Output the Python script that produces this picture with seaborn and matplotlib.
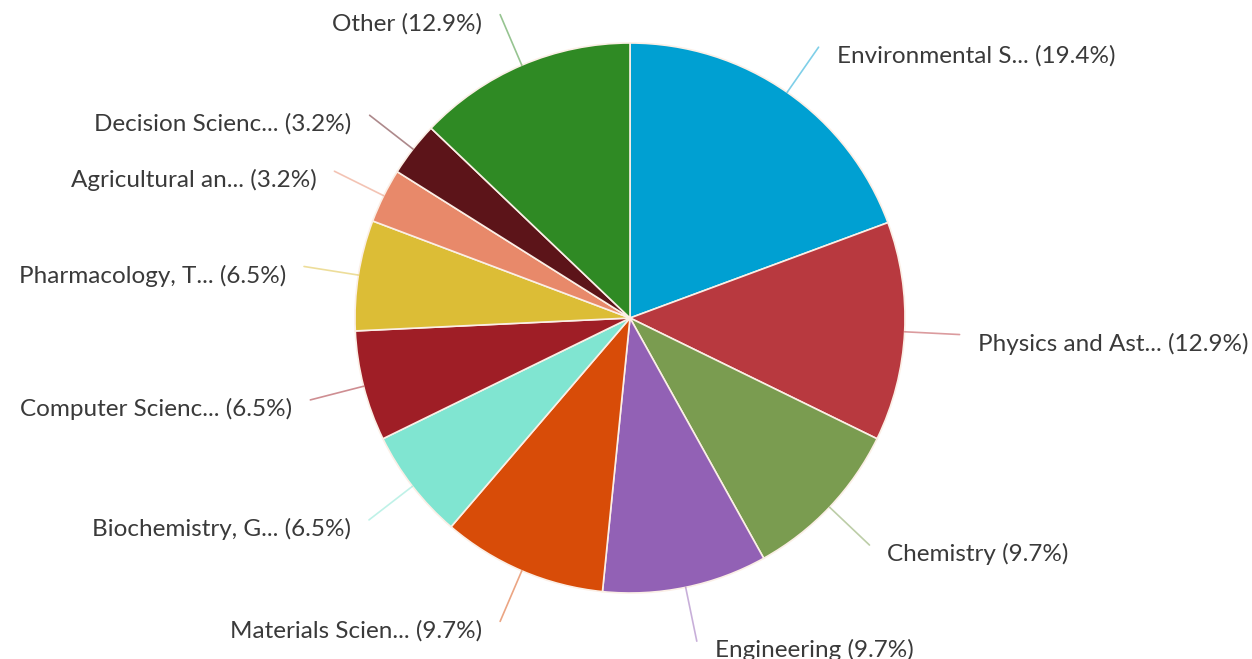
import numpy as np
import matplotlib
matplotlib.use("Agg")
import matplotlib.pyplot as plt
import seaborn as sns

categories = ["Environmental S...", "Physics and Ast...", "Chemistry", "Engineering",
              "Materials Scien...", "Biochemistry, G...", "Computer Scienc...",
              "Pharmacology, T...", "Agricultural an...", "Decision Scienc...", "Other"]
percents = [19.4, 12.9, 9.7, 9.7, 9.7, 6.5, 6.5, 6.5, 3.2, 3.2, 12.9]
colors = ["#00a0d2", "#b8393f", "#7a9c50", "#9261b5", "#d84c08", "#80e5d1",
          "#9f1e26", "#dcbd36", "#e8896a", "#5c1419", "#2f8a24"]

sns.set_theme(style="white")
plt.rcParams['font.family'] = ['Lato', 'DejaVu Sans']

W, H = 1252, 659
fig = plt.figure(figsize=(W / 100, H / 100), dpi=100)
ax = fig.add_axes([0, 0, 1, 1])

cx, cy, r = 630, 341, 275
wedges, _ = ax.pie(percents, colors=colors, startangle=90, counterclock=False,
                   center=(cx, cy), radius=r, frame=True,
                   wedgeprops=dict(edgecolor="#fbefe6", linewidth=1.2))
ax.set_xlim(0, W)
ax.set_ylim(0, H)
ax.set_aspect('equal')
ax.axis('off')

for w, lab, p, c in zip(wedges, categories, percents, colors):
    ang = np.deg2rad((w.theta1 + w.theta2) / 2)
    dx, dy = np.cos(ang), np.sin(ang)
    x0, y0 = cx + r * dx, cy + r * dy
    x1, y1 = cx + 1.2 * r * dx, cy + 1.2 * r * dy
    ax.plot([x0, x1], [y0, y1], color=c, alpha=0.5, lw=1.2, clip_on=False)
    side = 1 if dx >= 0 else -1
    ax.text(x1 + side * 18, y1 - 9, f"{lab} ({p}%)", ha='left' if side > 0 else 'right',
            va='center', fontsize=17.5, color="#3a3a3a")

fig.savefig("out.png", dpi=100, facecolor="white")
